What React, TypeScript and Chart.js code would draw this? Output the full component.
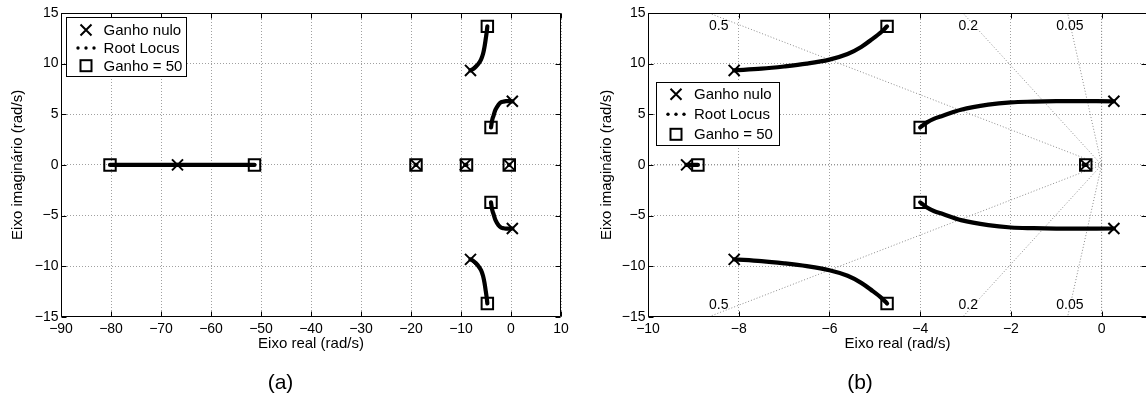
import React, { useEffect, useRef } from 'react';
import { Chart, registerables } from 'chart.js';

Chart.register(...registerables);

const FONT = "'Liberation Sans', Arial, Helvetica, sans-serif";
Chart.defaults.font.family = FONT;
Chart.defaults.color = '#000';

// ---------- data ----------
const legendLabels = ['Ganho nulo', 'Root Locus', 'Ganho = 50'];

// open-loop poles (gain = 0)
const poleRe = [-66.7, -19.0, -9.15, -0.35, -8.1, -8.1, 0.27, 0.27];
const poleIm = [0, 0, 0, 0, 9.33, -9.33, 6.28, -6.28];

// closed-loop poles at gain = 50
const gainRe = [-80.2, -51.3, -19.0, -8.9, -0.35, -4.73, -4.73, -4.0, -4.0];
const gainIm = [0, 0, 0, 0, 0, 13.68, -13.68, 3.7, -3.7];

// root-locus branches
const branchUpperRe = [-8.1, -7.5, -7.0, -6.5, -6.0, -5.6, -5.3, -5.05, -4.85, -4.73];
const branchUpperIm = [9.33, 9.5, 9.72, 10.0, 10.4, 10.95, 11.65, 12.45, 13.15, 13.68];
const branchLowerRe = [-8.1, -7.5, -7.0, -6.5, -6.0, -5.6, -5.3, -5.05, -4.85, -4.73];
const branchLowerIm = [-9.33, -9.5, -9.72, -10.0, -10.4, -10.95, -11.65, -12.45, -13.15, -13.68];
const branchMidUpRe = [0.27, -0.5, -1.0, -1.5, -2.0, -2.5, -3.1, -3.5, -3.7, -3.85, -4.0];
const branchMidUpIm = [6.28, 6.3, 6.29, 6.25, 6.18, 5.95, 5.45, 4.85, 4.55, 4.2, 3.7];
const branchMidDnRe = [0.27, -0.5, -1.0, -1.5, -2.0, -2.5, -3.1, -3.5, -3.7, -3.85, -4.0];
const branchMidDnIm = [-6.28, -6.3, -6.29, -6.25, -6.18, -5.95, -5.45, -4.85, -4.55, -4.2, -3.7];
const branchRealLeftRe = [-66.7, -80.2];
const branchRealRightRe = [-66.7, -51.3];
const branchReal19Re = [-19.1, -18.95];
const branchReal9Re = [-9.15, -8.9];
const branchReal0Re = [-0.4, -0.33];
const realIm = [0, 0];

// axes
const yTicks = [-15, -10, -5, 0, 5, 10, 15];
const xTicksA = [-90, -80, -70, -60, -50, -40, -30, -20, -10, 0, 10];
const xTicksB = [-10, -8, -6, -4, -2, 0];

// damping-ratio grid (panel b)
const zetaLabels = ['0.5', '0.2', '0.05'];
const zetaEndRe = [-8.66, -3.06, -0.75];
const zetaEndIm = [15, 15, 15];
const zetaLabelRe = [-8.44, -2.94, -0.7];
const zetaLabelImTop = [13.68, 13.68, 13.68];
const zetaLabelImBottom = [-13.8, -13.8, -13.8];

// ---------- helpers ----------
const pts = (re: number[], im: number[]) => re.map((x, i) => ({ x, y: im[i] }));
const fmt = (v: number) => String(v).replace('-', '\u2212');

const lineDs = (re: number[], im: number[]) => ({
  data: pts(re, im),
  showLine: true,
  borderColor: '#000',
  borderWidth: 4.2,
  borderCapStyle: 'round',
  borderJoinStyle: 'round',
  pointRadius: 0,
  order: 1,
  tension: 0.35,
});

const dottedDs = (re: number[], im: number[]) => ({
  data: pts(re, im),
  showLine: true,
  borderColor: '#8c8c8c',
  borderWidth: 1,
  borderDash: [1, 2],
  pointRadius: 0,
  order: 2,
  tension: 0,
});

const framePlugin = {
  id: 'mlFrame',
  afterDraw(chart: any) {
    const { ctx, chartArea: a, scales } = chart;
    ctx.save();
    ctx.strokeStyle = '#000';
    ctx.lineWidth = 1;
    const L = Math.round(a.left) + 0.5, R = Math.round(a.right) - 0.5;
    const T = Math.round(a.top) + 0.5, B = Math.round(a.bottom) - 0.5;
    ctx.beginPath();
    ctx.rect(L, T, R - L, B - T);
    const tl = 5;
    scales.x.ticks.forEach((t: any) => {
      const px = Math.round(scales.x.getPixelForValue(t.value)) + 0.5;
      ctx.moveTo(px, B); ctx.lineTo(px, B - tl);
      ctx.moveTo(px, T); ctx.lineTo(px, T + tl);
    });
    scales.y.ticks.forEach((t: any) => {
      const py = Math.round(scales.y.getPixelForValue(t.value)) + 0.5;
      ctx.moveTo(L, py); ctx.lineTo(L + tl, py);
      ctx.moveTo(R, py); ctx.lineTo(R - tl, py);
    });
    ctx.stroke();
    ctx.restore();
  },
};

const zetaLabelPlugin = {
  id: 'mlZeta',
  afterDatasetsDraw(chart: any, _a: any, o: any) {
    if (!o || !o.show) return;
    const { ctx, scales } = chart;
    ctx.save();
    ctx.font = `14px ${FONT}`;
    ctx.fillStyle = '#000';
    ctx.textAlign = 'center';
    ctx.textBaseline = 'middle';
    zetaLabels.forEach((lab, i) => {
      const x = scales.x.getPixelForValue(zetaLabelRe[i]);
      ctx.fillText(lab, x, scales.y.getPixelForValue(zetaLabelImTop[i]));
      ctx.fillText(lab, x, scales.y.getPixelForValue(zetaLabelImBottom[i]));
    });
    ctx.restore();
  },
};

const legendPlugin = {
  id: 'mlLegend',
  afterDraw(chart: any, _a: any, o: any) {
    const { ctx, chartArea: a } = chart;
    const x0 = Math.round(a.left + o.dx), y0 = Math.round(a.top + o.dy);
    ctx.save();
    ctx.fillStyle = '#fff';
    ctx.fillRect(x0, y0, o.w, o.h);
    ctx.strokeStyle = '#000';
    ctx.lineWidth = 1;
    ctx.strokeRect(x0 + 0.5, y0 + 0.5, o.w, o.h);
    ctx.font = `15px ${FONT}`;
    ctx.textBaseline = 'middle';
    ctx.textAlign = 'left';
    legendLabels.forEach((label, i) => {
      const cy = y0 + o.rows[i];
      const mx = x0 + o.markerX;
      ctx.fillStyle = '#000';
      ctx.strokeStyle = '#000';
      if (i === 0) {
        ctx.lineWidth = 2;
        ctx.beginPath();
        ctx.moveTo(mx - 5.5, cy - 5.5); ctx.lineTo(mx + 5.5, cy + 5.5);
        ctx.moveTo(mx + 5.5, cy - 5.5); ctx.lineTo(mx - 5.5, cy + 5.5);
        ctx.stroke();
      } else if (i === 1) {
        [-8, 0, 8].forEach((d) => {
          ctx.beginPath();
          ctx.arc(mx + d, cy, 1.7, 0, Math.PI * 2);
          ctx.fill();
        });
      } else {
        ctx.lineWidth = 2;
        ctx.strokeRect(mx - 5.5, cy - 5.5, 11, 11);
      }
      ctx.fillText(label, x0 + o.textX, cy + 1);
    });
    ctx.restore();
  },
};

function buildConfig(p: {
  xMin: number; xMax: number; xTicks: number[]; yWidth: number; yTitlePad: number;
  rightPad: number; tag: string; legend: any; zeta: boolean;
}): any {
  const datasets: any[] = [
    {
      data: pts(poleRe, poleIm),
      pointStyle: 'crossRot',
      pointRadius: 7.8,
      pointBorderWidth: 2,
      pointBorderColor: '#000',
      pointBackgroundColor: 'rgba(0,0,0,0)',
      showLine: false,
      order: 0,
    },
    {
      data: pts(gainRe, gainIm),
      pointStyle: 'rect',
      pointRadius: 8.1,
      pointBorderWidth: 2,
      pointBorderColor: '#000',
      pointBackgroundColor: 'rgba(0,0,0,0)',
      showLine: false,
      order: 0,
    },
    lineDs(branchUpperRe, branchUpperIm),
    lineDs(branchLowerRe, branchLowerIm),
    lineDs(branchMidUpRe, branchMidUpIm),
    lineDs(branchMidDnRe, branchMidDnIm),
    lineDs(branchRealLeftRe, realIm),
    lineDs(branchRealRightRe, realIm),
    lineDs(branchReal19Re, realIm),
    lineDs(branchReal9Re, realIm),
    lineDs(branchReal0Re, realIm),
  ];
  if (p.zeta) {
    zetaEndRe.forEach((re, i) => {
      datasets.push(dottedDs([0, re], [0, zetaEndIm[i]]));
      datasets.push(dottedDs([0, re], [0, -zetaEndIm[i]]));
    });
    datasets.push(dottedDs([p.xMin, 0], realIm));
    datasets.push(dottedDs([0, 0], [yTicks[0], yTicks[yTicks.length - 1]]));
  }
  return {
    type: 'scatter',
    data: { datasets },
    plugins: [framePlugin, zetaLabelPlugin, legendPlugin],
    options: {
      responsive: false,
      animation: false,
      events: [],
      devicePixelRatio: 1,
      layout: { padding: { top: 13, left: 0, right: p.rightPad, bottom: 11 } },
      plugins: {
        legend: { display: false },
        tooltip: { enabled: false },
        title: {
          display: true,
          text: p.tag,
          position: 'bottom',
          font: { size: 21, weight: 'normal', family: FONT },
          color: '#000',
          padding: 0,
        },
        mlLegend: p.legend,
        mlZeta: { show: p.zeta },
      },
      scales: {
        x: {
          type: 'linear',
          min: p.xMin,
          max: p.xMax,
          afterBuildTicks: (s: any) => { s.ticks = p.xTicks.map((v) => ({ value: v })); },
          afterFit: (s: any) => { s.height = 54; s.paddingLeft = 0; s.paddingRight = 0; },
          grid: { color: '#a0a0a0', drawTicks: false, lineWidth: 1 },
          border: { display: false, dash: [1, 2] },
          ticks: {
            padding: 4,
            autoSkip: false,
            maxRotation: 0,
            color: '#000',
            font: { size: 14, family: FONT },
            callback: (v: number) => fmt(v),
          },
          title: {
            display: true,
            text: 'Eixo real (rad/s)',
            color: '#000',
            font: { size: 15, family: FONT },
            padding: { top: 0, bottom: 18 },
          },
        },
        y: {
          type: 'linear',
          min: yTicks[0],
          max: yTicks[yTicks.length - 1],
          afterBuildTicks: (s: any) => { s.ticks = yTicks.map((v) => ({ value: v })); },
          afterFit: (s: any) => { s.width = p.yWidth; s.paddingTop = 0; s.paddingBottom = 0; },
          grid: { color: '#a0a0a0', drawTicks: false, lineWidth: 1 },
          border: { display: false, dash: [1, 2] },
          ticks: {
            padding: 2.5,
            autoSkip: false,
            color: '#000',
            font: { size: 14, family: FONT },
            callback: (v: number) => fmt(v),
          },
          title: {
            display: true,
            text: 'Eixo imaginário (rad/s)',
            color: '#000',
            font: { size: 15, family: FONT },
            padding: { top: p.yTitlePad, bottom: 0 },
          },
        },
      },
    },
  };
}

function RLChart({ left, width, cfg }: { left: number; width: number; cfg: () => any }) {
  const ref = useRef<HTMLCanvasElement>(null);
  useEffect(() => {
    const chart = new Chart(ref.current as HTMLCanvasElement, cfg());
    return () => chart.destroy();
  }, []);
  return (
    <canvas
      ref={ref}
      width={width}
      height={407}
      style={{ position: 'absolute', left, top: 0, width, height: 407 }}
    />
  );
}

export default function App() {
  return (
    <div
      style={{
        position: 'absolute',
        left: 0,
        top: 0,
        width: 1146,
        height: 407,
        overflow: 'hidden',
        background: '#fff',
      }}
    >
      <RLChart
        left={0}
        width={573}
        cfg={() =>
          buildConfig({
            xMin: -90, xMax: 10, xTicks: xTicksA, yWidth: 61, yTitlePad: 9, rightPad: 12, tag: '(a)',
            legend: { dx: 4.7, dy: 4, w: 120, h: 59, rows: [13, 31, 48.7], markerX: 20, textX: 37.6 },
            zeta: false,
          })
        }
      />
      <RLChart
        left={573}
        width={586}
        cfg={() =>
          buildConfig({
            xMin: -10, xMax: 1, xTicks: xTicksB, yWidth: 75, yTitlePad: 24.5, rightPad: 12, tag: '(b)',
            legend: { dx: 8.3, dy: 69.4, w: 123, h: 63, rows: [12.3, 32.3, 52.3], markerX: 20, textX: 38 },
            zeta: true,
          })
        }
      />
    </div>
  );
}
